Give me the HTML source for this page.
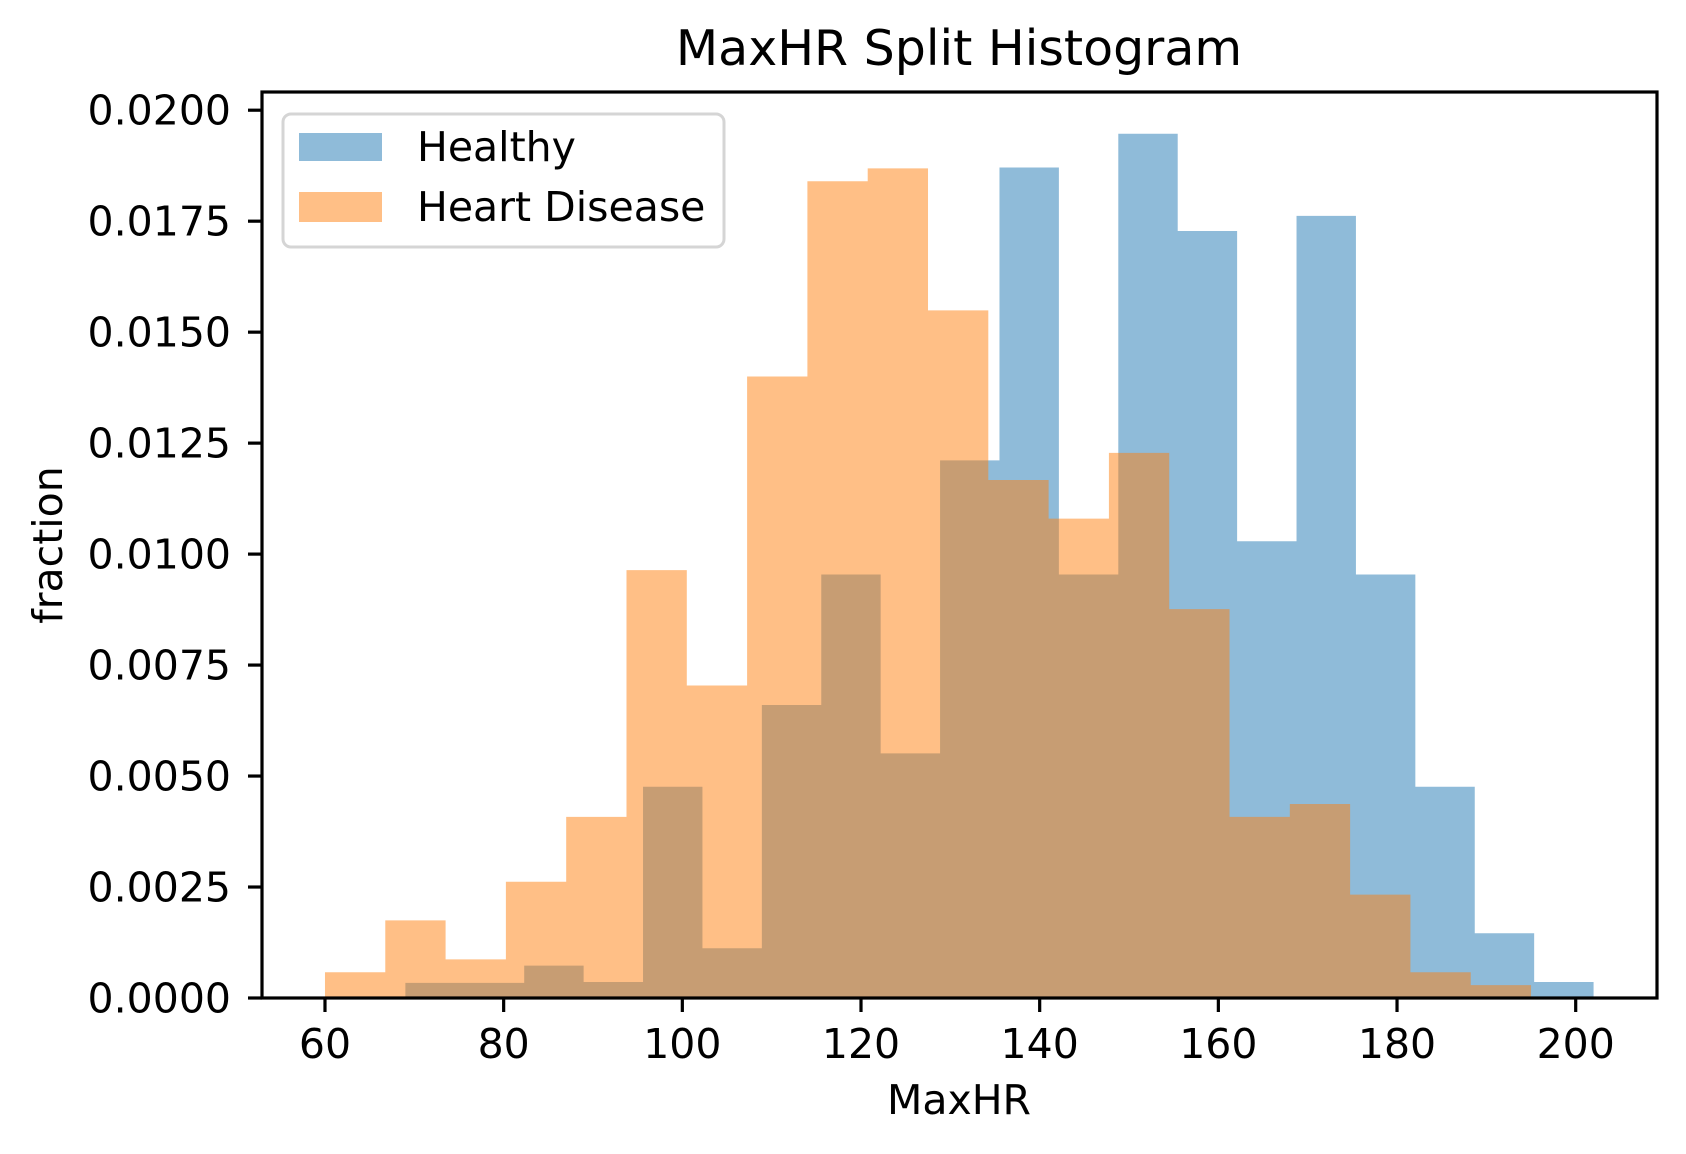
<!DOCTYPE html>
<html><head><meta charset="utf-8"><style>
html,body{margin:0;padding:0;background:#fff;}
svg{display:block;font-family:"DejaVu Sans","Liberation Sans",sans-serif;}
</style></head><body>
<svg id="chart" width="1686" height="1154" viewBox="0 0 1686 1154">
<rect x="0" y="0" width="1686" height="1154" fill="#fff"/>
<g id="bars"></g>
<g id="axes"></g>
</svg>
<script>
const healthyStart = 69, healthyEnd = 202;
const healthyValues = [0.00034,0.00034,0.00073,0.00036,0.00476,0.00112,0.0066,0.00954,0.00551,0.01211,0.01871,0.00954,0.01947,0.01728,0.01029,0.01762,0.00954,0.00476,0.00146,0.00036];
const diseaseStart = 60, diseaseEnd = 195;
const diseaseValues = [0.00058,0.00175,0.00087,0.00262,0.00408,0.00964,0.00704,0.014,0.0184,0.01869,0.01549,0.01167,0.0108,0.01228,0.00876,0.00408,0.00437,0.00233,0.00058,0.00029];
const xTicks = [60,80,100,120,140,160,180,200];
const yTicks = [0,0.0025,0.005,0.0075,0.01,0.0125,0.015,0.0175,0.02];
const yTickLabels = ["0.0000","0.0025","0.0050","0.0075","0.0100","0.0125","0.0150","0.0175","0.0200"];

const L=262,R=1657,T=92,B=998;
const xMin=52.95,xMax=209.1,yMin=0,yMax=0.02041;
function xs(v){return L+(v-xMin)/(xMax-xMin)*(R-L);}
function ys(v){return B-(v-yMin)/(yMax-yMin)*(B-T);}
const NS="http://www.w3.org/2000/svg";
function mk(tag,attrs,parent){const e=document.createElementNS(NS,tag);for(const k in attrs)e.setAttribute(k,attrs[k]);parent.appendChild(e);return e;}
const bars=document.getElementById('bars'), axes=document.getElementById('axes');

function drawSeries(vals,start,end,color,name){
  const w=(end-start)/vals.length;
  let d='M'+xs(start)+','+ys(0);
  vals.forEach((v,i)=>{
    d+=' L'+xs(start+i*w)+','+ys(v)+' L'+xs(start+(i+1)*w)+','+ys(v);
  });
  d+=' L'+xs(end)+','+ys(0)+' Z';
  const p=mk('path',{d:d,fill:color,'fill-opacity':0.5},bars);
  
  
}
drawSeries(healthyValues,healthyStart,healthyEnd,'#1f77b4','healthy');
drawSeries(diseaseValues,diseaseStart,diseaseEnd,'#ff7f0e','heart-disease');

const sp=mk('rect',{x:L,y:T,width:R-L,height:B-T,fill:'none',stroke:'#000','stroke-width':3.2},axes);



xTicks.forEach(t=>{
  const x=xs(t);
  const ln=mk('line',{x1:x,x2:x,y1:B,y2:B+14,stroke:'#000','stroke-width':3.2},axes);
  
  
  const tx=mk('text',{x:x,y:1058,'text-anchor':'middle','font-size':41,fill:'#000'},axes);
  tx.textContent=t;
  
  
});
yTicks.forEach((t,i)=>{
  const y=ys(t);
  const ln=mk('line',{x1:L-14,x2:L,y1:y,y2:y,stroke:'#000','stroke-width':3.2},axes);
  
  
  const tx=mk('text',{x:231,y:y+14.5,'text-anchor':'end','font-size':41,fill:'#000'},axes);
  tx.textContent=yTickLabels[i];
  
  
});
</script>
<script>
const s=document.getElementById('chart');
s.insertAdjacentHTML('beforeend',`
<text x="959" y="65" text-anchor="middle" font-size="49" fill="#000">MaxHR Split Histogram</text>
<text x="959" y="1114" text-anchor="middle" font-size="41" fill="#000">MaxHR</text>
<text x="0" y="0" transform="translate(62,545) rotate(-90)" text-anchor="middle" font-size="41" fill="#000">fraction</text>
<g>
<rect x="283" y="114" width="441" height="133" rx="8" fill="#fff" fill-opacity="0.8" stroke="#d5d5d5" stroke-width="3"/>
<rect x="299" y="133" width="83" height="28" fill="#1f77b4" fill-opacity="0.5"/>
<text x="417" y="161" font-size="41" fill="#000">Healthy</text>
<rect x="299" y="192" width="83" height="30" fill="#ff7f0e" fill-opacity="0.5"/>
<text x="417" y="221" font-size="41" fill="#000">Heart Disease</text>
</g>`);
</script>
</body></html>
